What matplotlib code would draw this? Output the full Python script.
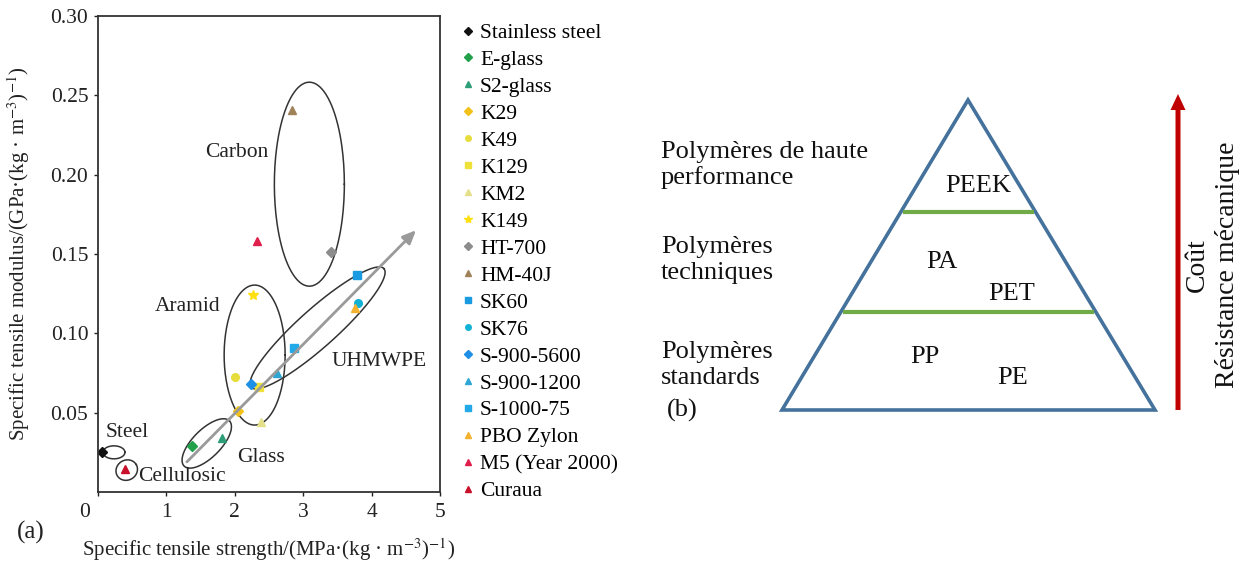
import numpy as np
import matplotlib
matplotlib.use("Agg")
import matplotlib.pyplot as plt
from matplotlib.lines import Line2D
from matplotlib.patches import Polygon, FancyArrow
from matplotlib.transforms import ScaledTranslation

plt.rcParams['font.family'] = ['Liberation Serif', 'DejaVu Serif']
plt.rcParams['mathtext.fontset'] = 'stix'

# ---------------- data (panel a) ----------------
materials = ["Stainless steel", "E-glass", "S2-glass", "K29", "K49", "K129", "KM2",
             "K149", "HT-700", "HM-40J", "SK60", "SK76", "S-900-5600", "S-900-1200",
             "S-1000-75", "PBO Zylon", "M5 (Year 2000)", "Curaua"]
strength = [0.06, 1.37, 1.81, 2.05, 2.01, 2.35, 2.38, 2.26, 3.41, 2.84, 3.78, 3.80,
            2.24, 2.62, 2.87, 3.76, 2.32, 0.39]
modulus = [0.025, 0.029, 0.034, 0.051, 0.0725, 0.066, 0.044, 0.124, 0.151, 0.241,
           0.137, 0.119, 0.068, 0.075, 0.091, 0.116, 0.158, 0.0145]
markers = ["D", "D", "^", "D", "o", "s", "^", "*", "D", "^", "s", "o", "D", "^", "s",
           "^", "^", "^"]
colors = ["#111111", "#22a04a", "#2e9e78", "#f2c21a", "#e6dc3c", "#efe13a", "#e4e08a",
          "#ffe010", "#8c8c8c", "#a0825a", "#1a9ae0", "#12b2d6", "#1e8fe6", "#2ea6d4",
          "#22aae8", "#f2b22e", "#e0204c", "#c8102a"]

groups = ["Steel", "Cellulosic", "Glass", "Aramid", "UHMWPE", "Carbon"]
# ellipse: centre (data), semi-axes (px), angle (deg)
ell_cx = [0.233, 0.42, 1.59, 2.29, 3.21, 3.09]
ell_cy = [0.025, 0.0138, 0.0306, 0.0863, 0.1034, 0.194]
ell_a = [11, 11, 32, 30.5, 89, 35]
ell_b = [6.5, 10, 14, 70, 19, 102]
ell_ang = [0, 30, 45, 0, 41.8, 0]
lab_x = [0.42, 1.22, 2.39, 1.31, 4.11, 2.03]
lab_y = [0.0375, 0.0095, 0.022, 0.117, 0.082, 0.214]

trend_start = (1.3, 0.019)
trend_end = (4.65, 0.165)

# ---------------- data (panel b) ----------------
tiers = ["Polymères\nstandards", "Polymères\ntechniques", "Polymères de haute\nperformance"]
tier_polymers = [["PP", "PE"], ["PA", "PET"], ["PEEK"]]

W, H = 1248, 567
fig = plt.figure(figsize=(W / 100, H / 100), dpi=100)

FS = 15.5

# ---------------- panel a ----------------
L, R, T, B = 98, 440, 16, 492
ax = fig.add_axes([L / W, (H - B) / H, (R - L) / W, (B - T) / H])
ax.set_xlim(0, 5)
ax.set_ylim(0, 0.30)
ax.set_xticks([0, 1, 2, 3, 4, 5])
ax.set_xticklabels(["0", "1", "2", "3", "4", "5"])
ax.set_yticks([0.05, 0.10, 0.15, 0.20, 0.25, 0.30])
ax.set_yticklabels(["0.05", "0.10", "0.15", "0.20", "0.25", "0.30"])
ax.tick_params(axis='both', direction='out', length=3, width=1, labelsize=FS,
               colors='#222222', pad=4)
ax.tick_params(axis='x', pad=5)
for s in ax.spines.values():
    s.set_linewidth(1.3)
    s.set_color('#333333')
lab0 = ax.get_xticklabels()[0]
lab0.set_transform(lab0.get_transform() + ScaledTranslation(-0.13, 0, fig.dpi_scale_trans))

sx = (R - L) / 5.0
sy = (B - T) / 0.30

# trend arrow
ax.annotate("", xy=trend_end, xytext=trend_start,
            arrowprops=dict(arrowstyle="-|>,head_length=0.8,head_width=0.35",
                            color="#9a9a9a", lw=2, shrinkA=0, shrinkB=0))

t = np.linspace(0, 2 * np.pi, 200)
for cx, cy, a, b, ang in zip(ell_cx, ell_cy, ell_a, ell_b, ell_ang):
    th = np.deg2rad(ang)
    u = a * np.cos(t)
    v = b * np.sin(t)
    X = u * np.cos(th) - v * np.sin(th)
    Y = u * np.sin(th) + v * np.cos(th)
    ax.plot(cx + X / sx, cy + Y / sy, color="#333333", lw=1.1)

for g, x, y in zip(groups, lab_x, lab_y):
    ax.text(x, y, g, fontsize=FS, ha='center', va='center', color='#222222')

handles = []
for name, x, y, m, c in zip(materials, strength, modulus, markers, colors):
    ms = 7.5 if m == "*" else 5.5
    ax.plot([x], [y], marker=m, color=c, ms=ms, ls='none', mec=c)
    handles.append(Line2D([], [], marker=m, color=c, ms=ms - 1.5, ls='none', mec=c,
                          label=name))

ax.set_xlabel("Specific tensile strength/(MPa·(kg · m$^{-3}$)$^{-1}$)", fontsize=15,
              labelpad=10, color='#222222')
ax.set_ylabel("Specific tensile modulus/(GPa·(kg · m$^{-3}$)$^{-1}$)", fontsize=15,
              labelpad=13, color='#222222')
fig.text(31 / W, 1 - 532 / H, "(a)", fontsize=18, ha='center', va='center',
         color='#222222')

fig.legend(handles=handles, loc='upper left', bbox_to_anchor=(462 / W, 1 - 23 / H),
           frameon=False, fontsize=FS, handlelength=0.6, handletextpad=0.24,
           labelspacing=0.32, borderaxespad=0, borderpad=0)

# ---------------- panel b ----------------
axb = fig.add_axes([640 / W, 0, (W - 640) / W, 1])
axb.set_xlim(640, W)
axb.set_ylim(H, 0)
axb.axis('off')

apex = (968, 100)
base_y = 410
bl, br = 782, 1155
tri = Polygon([apex, (bl, base_y), (br, base_y)], closed=True, fill=False,
              ec="#44729c", lw=2.6, joinstyle='miter')
axb.add_patch(tri)

def edge_x(y):
    f = (y - apex[1]) / (base_y - apex[1])
    return apex[0] + f * (bl - apex[0]), apex[0] + f * (br - apex[0])

for yl in [212, 312]:
    x0, x1 = edge_x(yl)
    axb.plot([x0 + 2, x1 - 2], [yl, yl], color="#71ab48", lw=3, solid_capstyle='butt')

FB = 19
tier_y = [365, 260, 165]
poly_pos = [[(925, 357), (1013, 378)], [(942, 262), (1012, 294)], [(978, 186)]]
for name, ty, polys, pos in zip(tiers, tier_y, tier_polymers, poly_pos):
    axb.text(661, ty, name, fontsize=FB, ha='left', va='center', linespacing=1.2,
             color='#111111')
    for p, (px, py) in zip(polys, pos):
        axb.text(px, py, p, fontsize=FB, ha='center', va='center', color='#111111')

axb.text(667, 410, "(b)", fontsize=FB, ha='left', va='center', color='#111111')

axb.add_patch(FancyArrow(1178, 410, 0, -300, width=5, head_width=15, head_length=16,
                         length_includes_head=False, color="#c00000", lw=0))
axb.text(1197, 265, "Coût", fontsize=20, rotation=90, ha='center', va='center',
         color='#111111')
axb.text(1228, 265, "Résistance mécanique", fontsize=20, rotation=90, ha='center',
         va='center', color='#111111')

fig.savefig("out.png", dpi=100)
